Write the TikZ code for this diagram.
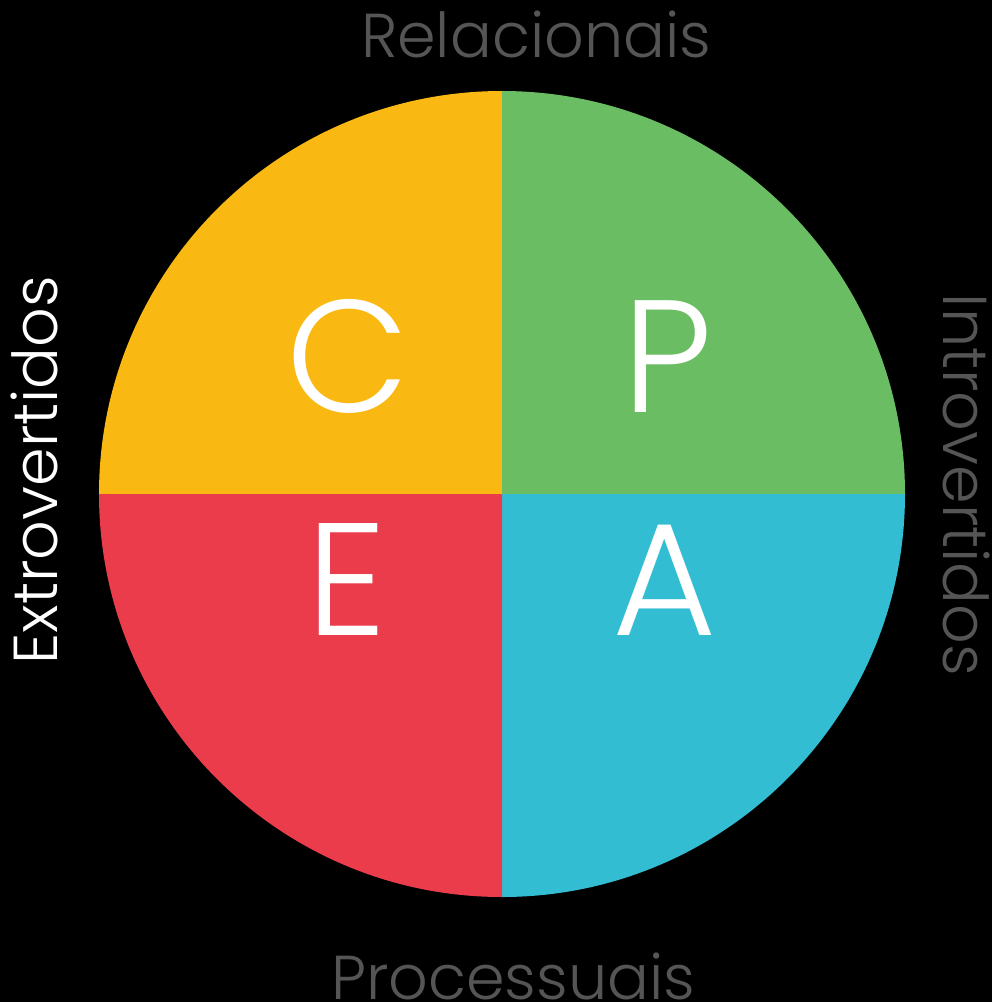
\documentclass[tikz,border=0pt]{standalone}
\usepackage{fontspec}
\setmainfont{Poppins Light}
\usepackage{tikz}

\definecolor{cyellow}{HTML}{F9B912}
\definecolor{cgreen}{HTML}{6ABD63}
\definecolor{ccyan}{HTML}{33BDD3}
\definecolor{cred}{HTML}{EB3C4C}
\definecolor{cgray}{HTML}{555555}

\begin{document}
\begin{tikzpicture}[x=1pt, y=-1pt,
	letter/.style = {anchor=base, text=white, inner sep=0pt, font=\fontsize{160}{160}\selectfont},
	axis/.style = {anchor=base, inner sep=0pt, font=\fontsize{62}{62}\selectfont}]
	\fill[black] (0,0) rectangle (992,1002);
	\useasboundingbox (0,0) rectangle (992,1002);
	\coordinate (o) at (502,494);
	% quadrants (y points down, so angles run clockwise)
	\fill[cyellow] (o) -- (99,494) arc[start angle=180, end angle=270, radius=403] -- cycle;
	\fill[cgreen] (o) -- (502,91) arc[start angle=270, end angle=360, radius=403] -- cycle;
	\fill[ccyan] (o) -- (905,494) arc[start angle=0, end angle=90, radius=403] -- cycle;
	\fill[cred] (o) -- (502,897) arc[start angle=90, end angle=180, radius=403] -- cycle;
	% letters
	\node[letter] (c) at (348,412) {C};
	\node[letter] (p) at (668,412) {P};
	\node[letter] (e) at (347,635) {E};
	\node[letter] (a) at (665,635) {A};
	% axis labels
	\node[axis, text=cgray] (rel) at (536,57) {Relacionais};
	\node[axis, text=cgray] (proc) at (513,999) {Processuais};
	\node[axis, text=white, rotate=90] (extro) at (57,470) {Extrovertidos};
	\node[axis, text=cgray, rotate=-90] (intro) at (943,485) {Introvertidos};
\end{tikzpicture}
\end{document}
